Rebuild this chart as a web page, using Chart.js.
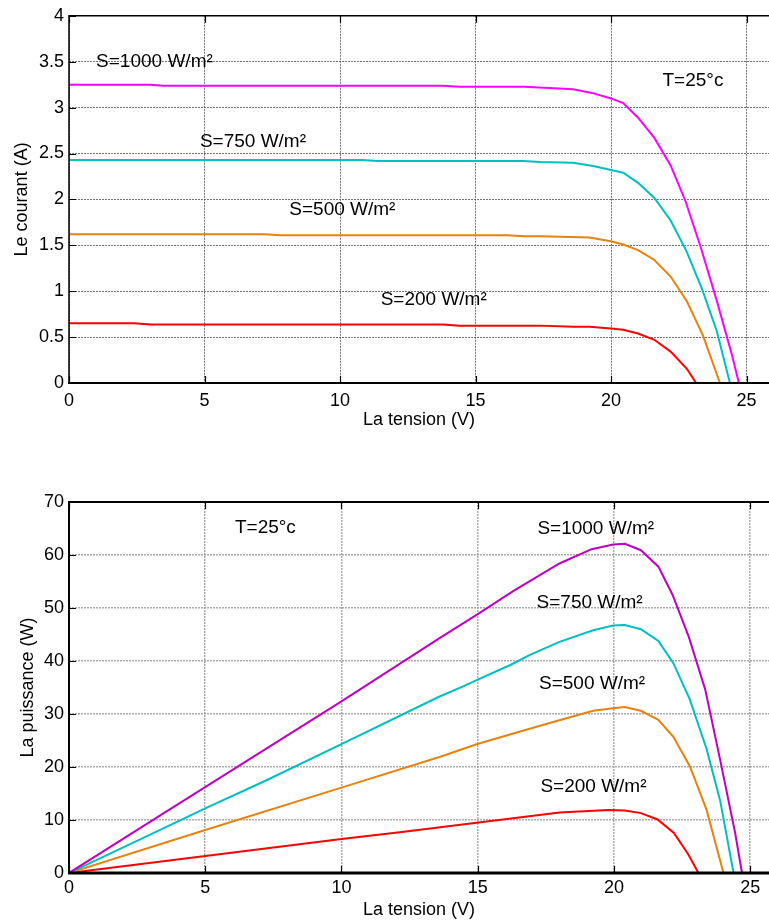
<!DOCTYPE html>
<html>
<head>
<meta charset="utf-8">
<script src="https://cdn.jsdelivr.net/npm/chart.js@4.4.1/dist/chart.umd.min.js"></script>
<style>
  html, body { margin: 0; padding: 0; background: #ffffff; }
  #wrap { position: relative; width: 769px; height: 923px; overflow: hidden; }
  canvas { position: absolute; left: 0; }
  #c1 { top: 0; }
  #c2 { top: 460px; }
</style>
</head>
<body>
<div id="wrap">
  <canvas id="c1" width="769" height="460"></canvas>
  <canvas id="c2" width="769" height="463"></canvas>
</div>
<script>
// ---------- Tick values ----------
const voltageTicks = [0, 5, 10, 15, 20, 25];
const currentTicks = [0, 0.5, 1, 1.5, 2, 2.5, 3, 3.5, 4];
const powerTicks = [0, 10, 20, 30, 40, 50, 60, 70];

// ---------- I-V curves (T = 25 °C) ----------
const vI1000 = [0, 3.0, 3.5, 13.8, 14.4, 16.8, 17.9, 18.6, 19.3, 20.0, 20.45, 21.0, 21.6, 22.2, 22.75, 23.3, 23.9, 24.45, 24.72];
const iI1000 = [3.25, 3.25, 3.237, 3.237, 3.226, 3.226, 3.21, 3.20, 3.16, 3.10, 3.05, 2.89, 2.67, 2.37, 1.98, 1.49, 0.90, 0.32, 0];

const vI750 = [0, 10.8, 11.4, 16.75, 17.4, 18.6, 19.35, 20.0, 20.45, 21.0, 21.6, 22.2, 22.78, 23.35, 23.9, 24.39];
const iI750 = [2.429, 2.429, 2.418, 2.418, 2.407, 2.40, 2.364, 2.32, 2.29, 2.18, 2.015, 1.77, 1.44, 1.03, 0.57, 0];

const vI500 = [0, 7.2, 7.8, 16.15, 16.8, 17.4, 19.2, 20.0, 20.45, 21.0, 21.6, 22.2, 22.8, 23.4, 24.02];
const iI500 = [1.621, 1.621, 1.610, 1.610, 1.599, 1.599, 1.584, 1.545, 1.509, 1.448, 1.34, 1.16, 0.89, 0.514, 0];

const vI200 = [0, 2.4, 3.0, 13.8, 14.4, 17.4, 18.6, 19.2, 20.0, 20.45, 21.0, 21.6, 22.2, 22.8, 23.14];
const iI200 = [0.651, 0.651, 0.636, 0.636, 0.625, 0.625, 0.614, 0.614, 0.593, 0.579, 0.539, 0.471, 0.342, 0.155, 0];

// ---------- P-V curves (T = 25 °C) ----------
const vP1000 = [0, 3.0, 6.6, 10.0, 13.6, 14.96, 16.3, 17.28, 18.0, 19.18, 19.97, 20.4, 20.99, 21.63, 22.15, 22.75, 23.35, 23.9, 24.45, 24.7];
const pP1000 = [0, 9.75, 21.4, 32.4, 44.3, 48.7, 53.2, 56.2, 58.4, 61.1, 62.0, 62.1, 60.9, 57.8, 52.5, 44.5, 34.6, 21.3, 7.5, 0];

const vP750 = [0, 3.0, 5.0, 7.25, 10.0, 13.6, 14.47, 14.96, 16.18, 16.9, 18.0, 19.24, 19.97, 20.4, 20.99, 21.63, 22.18, 22.78, 23.4, 23.9, 24.39];
const pP750 = [0, 7.3, 12.2, 17.5, 24.3, 33.3, 35.2, 36.4, 39.2, 41.1, 43.6, 45.8, 46.7, 46.8, 46.0, 43.8, 39.6, 32.8, 23.4, 13.6, 0];

const vP500 = [0, 5.0, 10.0, 13.6, 14.96, 16.43, 17.77, 19.24, 19.97, 20.4, 20.99, 21.63, 22.18, 22.79, 23.4, 24.02];
const pP500 = [0, 8.1, 16.1, 21.9, 24.3, 26.5, 28.5, 30.6, 31.1, 31.3, 30.6, 28.9, 25.7, 20.1, 11.9, 0];

const vP200 = [0, 5.0, 10.0, 12.14, 14.96, 18.0, 19.8, 20.4, 20.99, 21.6, 22.2, 22.72, 23.1];
const pP200 = [0, 3.2, 6.4, 7.7, 9.5, 11.4, 11.9, 11.8, 11.3, 10.1, 7.55, 3.6, 0];

// ---------- helpers ----------
const FONT = '"Liberation Sans", Arial, sans-serif';
const pts = (xs, ys) => xs.map((x, i) => ({ x: x, y: ys[i] }));
const ds = (label, xs, ys, color) => ({
  label: label, data: pts(xs, ys), borderColor: color, backgroundColor: color,
  borderWidth: 2, pointRadius: 0, tension: 0, fill: false
});

const framePlugin = {
  id: 'frame',
  afterDraw(chart, args, opts) {
    const ctx = chart.ctx;
    const a = chart.chartArea;
    const xs = chart.scales.x, ys = chart.scales.y;
    ctx.save();
    // inward tick marks
    ctx.strokeStyle = '#000';
    ctx.lineWidth = 1.2;
    ctx.beginPath();
    xs.ticks.forEach(t => {
      const px = Math.round(xs.getPixelForValue(t.value)) + 0.5;
      ctx.moveTo(px, a.bottom); ctx.lineTo(px, a.bottom - opts.tick);
      ctx.moveTo(px, a.top); ctx.lineTo(px, a.top + opts.tick);
    });
    ys.ticks.forEach(t => {
      const py = Math.round(ys.getPixelForValue(t.value)) + 0.5;
      ctx.moveTo(a.left, py); ctx.lineTo(a.left + opts.tick, py);
    });
    ctx.stroke();
    // box (left, top, bottom)
    ctx.lineWidth = opts.axisWidth;
    ctx.beginPath();
    ctx.moveTo(a.right + 2, a.top); ctx.lineTo(a.left, a.top); ctx.lineTo(a.left, a.bottom);
    ctx.stroke();
    ctx.lineWidth = opts.bottomWidth;
    ctx.beginPath();
    ctx.moveTo(a.left - 1, a.bottom); ctx.lineTo(a.right + 2, a.bottom);
    ctx.stroke();
    // text annotations
    ctx.fillStyle = '#000';
    ctx.font = '19px ' + FONT;
    ctx.textAlign = 'left';
    ctx.textBaseline = 'middle';
    opts.labels.forEach(l => {
      ctx.fillText(l.text, xs.getPixelForValue(l.x), ys.getPixelForValue(l.y));
    });
    ctx.restore();
  }
};

function makeOptions(cfg) {
  return {
    responsive: false,
    animation: false,
    layout: { padding: { top: cfg.padTop, left: 0, right: 0, bottom: 0 } },
    plugins: {
      legend: { display: false },
      tooltip: { enabled: false },
      frame: { labels: cfg.labels, tick: 7, axisWidth: cfg.axisWidth, bottomWidth: cfg.bottomWidth }
    },
    scales: {
      x: {
        type: 'linear', min: 0, max: cfg.xMax,
        afterBuildTicks: s => { s.ticks = voltageTicks.map(v => ({ value: v })); },
        afterFit: s => { s.height = cfg.xAxisHeight; },
        ticks: { color: '#000', font: { family: FONT, size: 18 }, padding: cfg.xTickPad, maxRotation: 0,
                 callback: v => String(v) },
        grid: { color: cfg.gridColor, lineWidth: cfg.gridWidth, drawTicks: false },
        border: { display: false, dash: [2, 1] },
        title: { display: true, text: 'La tension (V)', color: '#000',
                 font: { family: FONT, size: 18 }, padding: { top: 0, bottom: cfg.xTitlePad } }
      },
      y: {
        type: 'linear', min: cfg.yMin, max: cfg.yMax,
        afterBuildTicks: s => { s.ticks = cfg.yTicks.map(v => ({ value: v })); },
        afterFit: s => { s.width = 69; },
        ticks: { color: '#000', font: { family: FONT, size: 18 }, padding: 5,
                 callback: v => String(v) },
        grid: { color: cfg.gridColor, lineWidth: cfg.gridWidth, drawTicks: false },
        border: { display: false, dash: [2, 1] },
        title: { display: true, text: cfg.yTitle, color: '#000',
                 font: { family: FONT, size: 18 }, padding: { top: cfg.yTitlePad, bottom: 0 } }
      }
    }
  };
}

new Chart(document.getElementById('c1'), {
  type: 'line',
  data: {
    datasets: [
      ds('S=1000 W/m²', vI1000, iI1000, '#FF00FF'),
      ds('S=750 W/m²', vI750, iI750, '#00BFBF'),
      ds('S=500 W/m²', vI500, iI500, '#E6820E'),
      ds('S=200 W/m²', vI200, iI200, '#FF0000')
    ]
  },
  options: makeOptions({
    padTop: 13, xMax: 25.83, yMin: 0, yMax: 4, yTicks: currentTicks,
    xAxisHeight: 77, xTickPad: 7, xTitlePad: 29, yTitlePad: 11,
    yTitle: 'Le courant (A)', gridColor: 'rgba(90,90,90,0.85)', gridWidth: 1,
    axisWidth: 1.5, bottomWidth: 2,
    labels: [
      { text: 'S=1000 W/m²', x: 1.0, y: 3.5 },
      { text: 'T=25°c', x: 21.9, y: 3.29 },
      { text: 'S=750 W/m²', x: 4.83, y: 2.63 },
      { text: 'S=500 W/m²', x: 8.13, y: 1.886 },
      { text: 'S=200 W/m²', x: 11.5, y: 0.91 }
    ]
  }),
  plugins: [framePlugin]
});

new Chart(document.getElementById('c2'), {
  type: 'line',
  data: {
    datasets: [
      ds('S=1000 W/m²', vP1000, pP1000, '#BF00BF'),
      ds('S=750 W/m²', vP750, pP750, '#00BFBF'),
      ds('S=500 W/m²', vP500, pP500, '#E6820E'),
      ds('S=200 W/m²', vP200, pP200, '#FF0000')
    ]
  },
  options: makeOptions({
    padTop: 42, xMax: 25.69, yMin: 0, yMax: 70, yTicks: powerTicks,
    xAxisHeight: 50, xTickPad: 4, xTitlePad: 2, yTitlePad: 17,
    yTitle: 'La puissance (W)', gridColor: 'rgba(150,150,150,0.8)', gridWidth: 1.5,
    axisWidth: 2, bottomWidth: 3,
    labels: [
      { text: 'T=25°c', x: 6.09, y: 65.1 },
      { text: 'S=1000 W/m²', x: 17.19, y: 65.0 },
      { text: 'S=750 W/m²', x: 17.16, y: 51.0 },
      { text: 'S=500 W/m²', x: 17.25, y: 35.7 },
      { text: 'S=200 W/m²', x: 17.3, y: 16.3 }
    ]
  }),
  plugins: [framePlugin]
});
</script>
</body>
</html>
